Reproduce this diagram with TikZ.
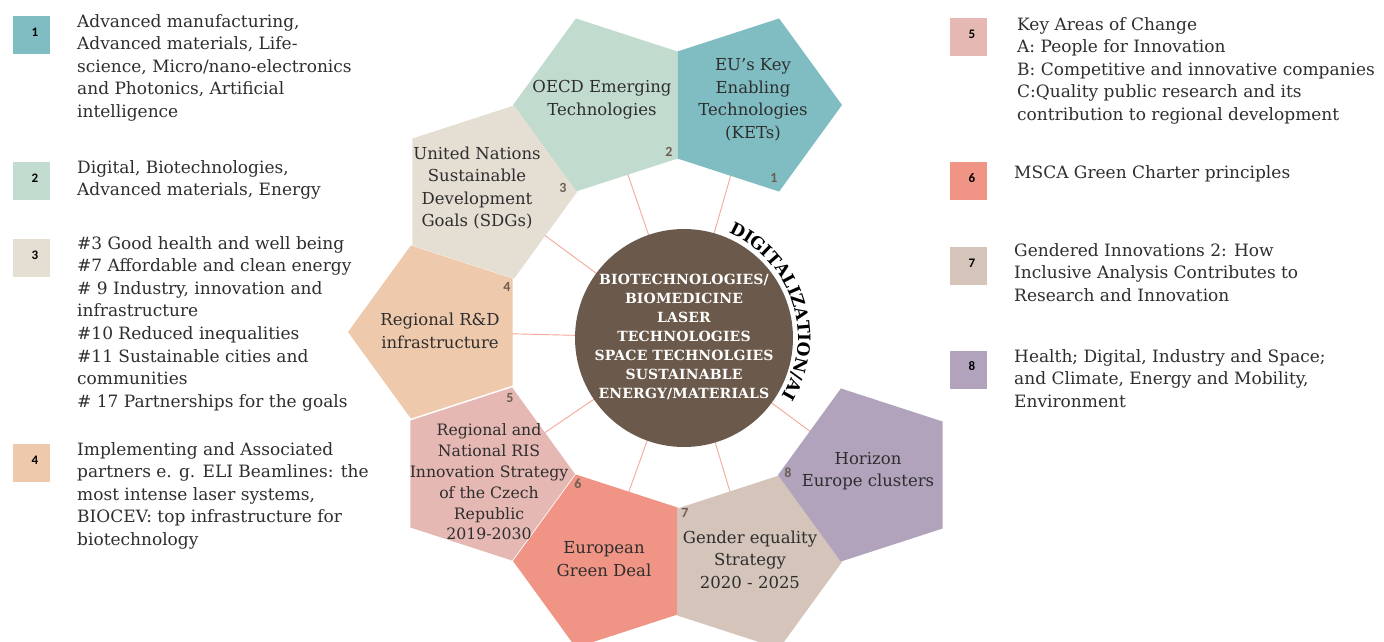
\documentclass[tikz,border=0pt]{standalone}
\usepackage{fontspec}
\setmainfont{DejaVu Serif}
\newfontfamily\numfont{Carlito}
\newfontfamily\circfont[LetterSpace=1]{DejaVu Serif}
\usetikzlibrary{shapes.geometric,decorations.text,backgrounds}
\definecolor{cone}{HTML}{80BDC2}
\definecolor{ctwo}{HTML}{C1DBCF}
\definecolor{cthree}{HTML}{E4DED3}
\definecolor{cfour}{HTML}{EFC9AC}
\definecolor{cfive}{HTML}{E6B8B3}
\definecolor{csix}{HTML}{F09585}
\definecolor{cseven}{HTML}{D4C4BA}
\definecolor{ceight}{HTML}{B2A3BD}
\definecolor{ccirc}{HTML}{6B5A4C}
\definecolor{cconn}{HTML}{F4A898}
\definecolor{cnum}{HTML}{6E5E52}
\definecolor{ctxt}{HTML}{2E2E2E}
\begin{document}
\begin{tikzpicture}[x=1pt,y=-1pt,
  pent/.style={regular polygon, regular polygon sides=5, minimum size=182pt, inner sep=0pt, outer sep=0pt, draw=none},
  pright/.style={pent, shape border rotate=-90},
  pleft/.style={pent, shape border rotate=90},
  ptext/.style={align=center, inner sep=0pt, text=ctxt, font=\fontsize{16.5}{22.5}\selectfont},
  pnum/.style={inner sep=0pt, text=cnum, font=\numfont\bfseries\fontsize{14}{14}\selectfont},
  conn/.style={draw=cconn, line width=0.9pt},
  legbox/.style={rectangle, minimum width=37pt, minimum height=38pt, inner sep=0pt},
  legnum/.style={inner sep=0pt, text=black, font=\numfont\bfseries\fontsize{13}{13}\selectfont},
  legtext/.style={anchor=base west, align=left, inner sep=0pt, text=ctxt, font=\fontsize{17}{22.6}\selectfont}]
\useasboundingbox (0,0) rectangle (1384,641);

% central circle
\node[circle, fill=ccirc, minimum size=218pt, inner sep=0pt] (circ) at (684,338) {};
\node[align=center, inner sep=0pt, text=white, font=\circfont\bfseries\fontsize{14}{19}\selectfont] (ctext) at (684,336.5)
  {BIOTECHNOLOGIES/\\BIOMEDICINE\\LASER\\TECHNOLOGIES\\SPACE TECHNOLGIES\\SUSTAINABLE\\ENERGY/MATERIALS};

% pentagons
\node[pright, fill=cone]   (p1) at (751,105) {};
\node[pleft,  fill=ctwo]   (p2) at (604,105) {};
\node[pright, fill=cthree] (p3) at (486,192) {};
\node[pleft,  fill=cfour]  (p4) at (439,332) {};
\node[pright, fill=cfive]  (p5) at (484,474) {};
\node[pleft,  fill=csix]   (p6) at (604,561) {};
\node[pright, fill=cseven] (p7) at (751,562) {};
\node[pleft,  fill=ceight] (p8) at (869,475) {};

% connectors behind
\begin{pgfonlayer}{background}
\fill[white] (0,0) rectangle (1384,641);
\foreach \p in {p1,p2,p3,p4,p5,p6,p7,p8}{\draw[conn] (circ.center) -- (\p.center);}
\end{pgfonlayer}

% pentagon texts
\node[ptext] (t1) at (753,100) {EU's Key\\Enabling\\Technologies\\(KETs)};
\node[ptext] (t2) at (602,99.5) {OECD Emerging\\Technologies};
\node[ptext] (t3) at (477,188) {United Nations\\Sustainable\\Development\\Goals (SDGs)};
\node[ptext] (t4) at (440,331) {Regional R\&D\\infrastructure};
\node[ptext, font=\fontsize{15.7}{20.8}\selectfont] (t5) at (489,482) {Regional and\\National RIS\\Innovation Strategy\\of the Czech\\Republic\\2019-2030};
\node[ptext] (t6) at (604,559) {European\\Green Deal};
\node[ptext] (t7) at (750,559.5) {Gender equality\\Strategy\\2020 - 2025};
\node[ptext] (t8) at (868,471) {Horizon\\Europe clusters};

% pentagon numbers
\node[pnum] (n1) at (774,178) {1};
\node[pnum] (n2) at (669,152) {2};
\node[pnum] (n3) at (563,188) {3};
\node[pnum] (n4) at (507,287) {4};
\node[pnum] (n5) at (510,398) {5};
\node[pnum] (n6) at (578,484) {6};
\node[pnum] (n7) at (685,513) {7};
\node[pnum] (n8) at (788,473) {8};

% curved label
\path[decorate, decoration={text along path, text align=center,
  text={|\bfseries\fontsize{17}{17}\selectfont|DIGITALIZATION/AI}}]
  ([shift={(-69:114)}]circ.center) arc[start angle=-69, end angle=33, radius=114];

% legend boxes
\node[legbox, fill=cone]   (l1) at (31.5,35) {};
\node[legbox, fill=ctwo]   (l2) at (31.5,181) {};
\node[legbox, fill=cthree] (l3) at (31.5,258) {};
\node[legbox, fill=cfour]  (l4) at (31.5,463) {};
\node[legbox, fill=cfive]  (l5) at (968.5,37) {};
\node[legbox, fill=csix]   (l6) at (968.5,181) {};
\node[legbox, fill=cseven] (l7) at (968.5,266) {};
\node[legbox, fill=ceight] (l8) at (968.5,369.5) {};
\foreach \i in {1,...,8}{\node[legnum] (ln\i) at ([xshift=3.5pt,yshift=3pt]l\i.center) {\i};}

% legend texts (anchor = baseline of the last line)
\node[legtext] (d1) at (77,117.4) {Advanced manufacturing,\\Advanced materials, Life-\\science, Micro/nano-electronics\\and Photonics, Artificial\\intelligence};
\node[legtext] (d2) at (77,195.6) {Digital, Biotechnologies,\\Advanced materials, Energy};
\node[legtext] (d3) at (77,407.2) {\#3 Good health and well being\\\#7 Affordable and clean energy\\\# 9 Industry, innovation and\\infrastructure\\\#10 Reduced inequalities\\\#11 Sustainable cities and\\communities\\\# 17 Partnerships for the goals};
\node[legtext] (d4) at (77,545.4) {Implementing and Associated\\partners e. g. ELI Beamlines: the\\most intense laser systems,\\BIOCEV: top infrastructure for\\biotechnology};
\node[legtext] (d5) at (1017,120.4) {Key Areas of Change\\A: People for Innovation\\B: Competitive and innovative companies\\C:Quality public research and its\\contribution to regional development};
\node[legtext] (d6) at (1014,178) {MSCA Green Charter principles};
\node[legtext] (d7) at (1014,301.2) {Gendered Innovations 2: How\\Inclusive Analysis Contributes to\\Research and Innovation};
\node[legtext] (d8) at (1014,407.2) {Health; Digital, Industry and Space;\\and Climate, Energy and Mobility,\\Environment};
\end{tikzpicture}
\end{document}
